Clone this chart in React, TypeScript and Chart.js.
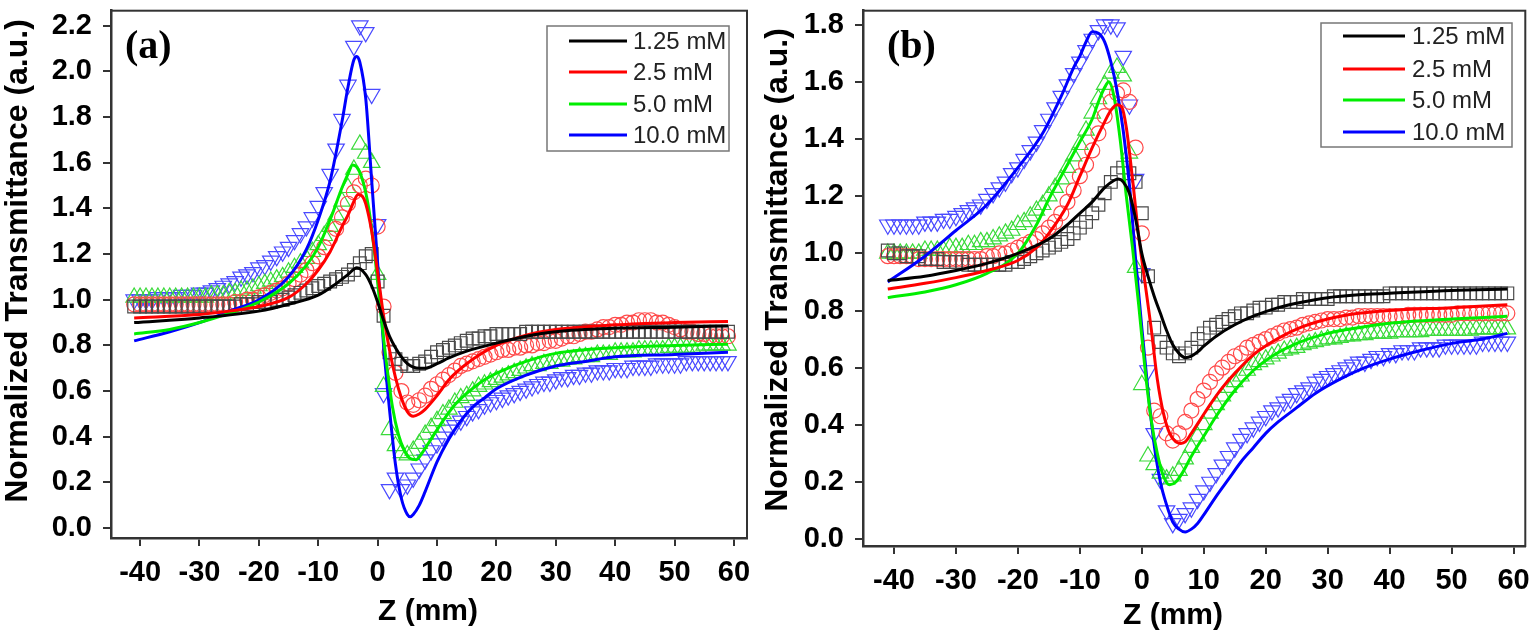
import React, { useEffect, useRef } from 'react';
import { Chart, registerables } from 'chart.js';

Chart.register(...registerables);
Chart.defaults.font.family = '"Liberation Sans", Arial, sans-serif';

// ---------- data ----------
const SERIES_LABELS = ['1.25 mM', '2.5 mM', '5.0 mM', '10.0 mM'];
const LINE_COLORS = ['#000000', '#ff0000', '#00ee00', '#0000ff'];
const MARK_COLORS = ['#4a4a4a', '#ff4a4a', '#3ada3a', '#4a4aff'];

const X_TICKS = [-40, -30, -20, -10, 0, 10, 20, 30, 40, 50, 60];
const Y_TICKS_A = [0.0, 0.2, 0.4, 0.6, 0.8, 1.0, 1.2, 1.4, 1.6, 1.8, 2.0, 2.2];
const Y_TICKS_B = [0.0, 0.2, 0.4, 0.6, 0.8, 1.0, 1.2, 1.4, 1.6, 1.8];

const X_TITLE = 'Z (mm)';
const Y_TITLE = 'Normalized Transmittance (a.u.)';

// sample positions (mm)
const Z_MM = [
  -41, -40, -39, -38, -37, -36, -35, -34, -33, -32,
  -31, -30, -29, -28, -27, -26, -25, -24, -23, -22,
  -21, -20, -19, -18, -17, -16, -15, -14, -13, -12,
  -11, -10, -9, -8, -7, -6, -5, -4, -3, -2,
  -1, 0, 1, 2, 3, 4, 5, 6, 7, 8,
  9, 10, 11, 12, 13, 14, 15, 16, 17, 18,
  19, 20, 21, 22, 23, 24, 25, 26, 27, 28,
  29, 30, 31, 32, 33, 34, 35, 36, 37, 38,
  39, 40, 41, 42, 43, 44, 45, 46, 47, 48,
  49, 50, 51, 52, 53, 54, 55, 56, 57, 58,
  59,
];

// Panel (a) measured points
const A_T125 = [
  0.97, 0.97, 0.97, 0.97, 0.97, 0.97, 0.97, 0.97, 0.97, 0.97,
  0.97, 0.97, 0.97, 0.97, 0.97, 0.97, 0.97, 0.97, 0.98, 0.98,
  0.98, 0.99, 0.99, 0.99, 1.00, 1.00, 1.01, 1.02, 1.03, 1.04,
  1.05, 1.06, 1.07, 1.08, 1.09, 1.10, 1.11, 1.13, 1.16, 1.19,
  1.20, 1.08, 0.93, 0.77, 0.74, 0.72, 0.71, 0.71, 0.72, 0.73,
  0.75, 0.77, 0.78, 0.79, 0.80, 0.81, 0.82, 0.83, 0.83, 0.84,
  0.84, 0.85, 0.85, 0.85, 0.85, 0.85, 0.86, 0.86, 0.86, 0.86,
  0.86, 0.86, 0.86, 0.86, 0.86, 0.86, 0.86, 0.86, 0.86, 0.86,
  0.86, 0.86, 0.86, 0.86, 0.86, 0.86, 0.86, 0.86, 0.86, 0.86,
  0.86, 0.86, 0.86, 0.86, 0.86, 0.86, 0.86, 0.86, 0.86, 0.86,
  0.86,
];
const A_T25 = [
  0.98, 0.98, 0.98, 0.98, 0.98, 0.98, 0.98, 0.98, 0.98, 0.98,
  0.98, 0.98, 0.98, 0.98, 0.98, 0.98, 0.98, 0.99, 0.99, 1.00,
  1.00, 1.01, 1.02, 1.03, 1.04, 1.05, 1.07, 1.09, 1.11, 1.13,
  1.16, 1.19, 1.23, 1.27, 1.31, 1.36, 1.42, 1.47, 1.50, 1.53,
  1.50, 1.32, 0.97, 0.77, 0.68, 0.60, 0.55, 0.54, 0.56, 0.58,
  0.61, 0.63, 0.65, 0.67, 0.69, 0.71, 0.72, 0.73, 0.74, 0.75,
  0.76, 0.77, 0.78, 0.78, 0.79, 0.79, 0.80, 0.80, 0.81, 0.81,
  0.82, 0.82, 0.83, 0.84, 0.84, 0.85, 0.86, 0.86, 0.87, 0.88,
  0.88, 0.89, 0.89, 0.90, 0.90, 0.91, 0.91, 0.91, 0.90, 0.90,
  0.89, 0.88, 0.87, 0.86, 0.86, 0.85, 0.85, 0.84, 0.84, 0.84,
  0.84,
];
const A_T50 = [
  1.01, 1.01, 1.01, 1.01, 1.01, 1.01, 1.01, 1.01, 1.01, 1.01,
  1.01, 1.01, 1.01, 1.02, 1.02, 1.02, 1.03, 1.03, 1.04, 1.04,
  1.05, 1.06, 1.07, 1.08, 1.09, 1.10, 1.12, 1.14, 1.16, 1.18,
  1.21, 1.24, 1.28, 1.32, 1.37, 1.43, 1.49, 1.57, 1.68, 1.64,
  1.60, 1.11, 0.62, 0.43, 0.36, 0.33, 0.32, 0.34, 0.37, 0.41,
  0.44, 0.47, 0.50, 0.52, 0.55, 0.57, 0.58, 0.60, 0.62, 0.63,
  0.64, 0.65, 0.66, 0.67, 0.68, 0.69, 0.70, 0.71, 0.71, 0.72,
  0.72, 0.73, 0.73, 0.74, 0.74, 0.75, 0.75, 0.75, 0.76, 0.76,
  0.76, 0.77, 0.77, 0.77, 0.77, 0.78, 0.78, 0.78, 0.78, 0.78,
  0.79, 0.79, 0.79, 0.79, 0.79, 0.79, 0.80, 0.80, 0.80, 0.80,
  0.80,
];
const A_T100 = [
  1.00, 1.00, 1.00, 1.00, 1.01, 1.01, 1.01, 1.01, 1.02, 1.02,
  1.02, 1.03, 1.03, 1.04, 1.05, 1.06, 1.07, 1.08, 1.10, 1.11,
  1.12, 1.14, 1.15, 1.17, 1.19, 1.21, 1.23, 1.26, 1.29, 1.32,
  1.36, 1.41, 1.47, 1.55, 1.66, 1.79, 1.94, 2.11, 2.20, 2.17,
  1.90, 1.33, 0.59, 0.17, 0.22, 0.17, 0.19, 0.22, 0.26, 0.30,
  0.34, 0.37, 0.40, 0.43, 0.45, 0.47, 0.49, 0.51, 0.52, 0.54,
  0.55, 0.56, 0.57, 0.58, 0.59, 0.60, 0.61, 0.62, 0.63, 0.64,
  0.64, 0.65, 0.66, 0.66, 0.67, 0.67, 0.68, 0.68, 0.69, 0.69,
  0.69, 0.70, 0.70, 0.70, 0.71, 0.71, 0.71, 0.71, 0.72, 0.72,
  0.72, 0.72, 0.72, 0.73, 0.73, 0.73, 0.73, 0.73, 0.73, 0.73,
  0.73,
];

// Panel (b) measured points
const B_T125 = [
  1.01, 1.00, 1.00, 0.99, 0.99, 0.99, 0.98, 0.98, 0.98, 0.97,
  0.97, 0.97, 0.97, 0.96, 0.96, 0.96, 0.96, 0.96, 0.96, 0.96,
  0.97, 0.97, 0.98, 0.99, 1.00, 1.01, 1.02, 1.03, 1.04, 1.05,
  1.07, 1.09, 1.11, 1.14, 1.17, 1.21, 1.25, 1.28, 1.30, 1.28,
  1.25, 1.14, 0.92, 0.74, 0.69, 0.67, 0.65, 0.64, 0.65, 0.67,
  0.70, 0.72, 0.74, 0.75, 0.76, 0.77, 0.78, 0.79, 0.79, 0.80,
  0.81, 0.81, 0.82, 0.82, 0.83, 0.83, 0.83, 0.84, 0.84, 0.84,
  0.84, 0.84, 0.85, 0.85, 0.85, 0.85, 0.85, 0.85, 0.85, 0.85,
  0.85, 0.86, 0.86, 0.86, 0.86, 0.86, 0.86, 0.86, 0.86, 0.86,
  0.86, 0.86, 0.86, 0.86, 0.86, 0.86, 0.86, 0.86, 0.86, 0.86,
  0.86,
];
const B_T25 = [
  0.99, 0.99, 0.99, 0.99, 0.99, 0.98, 0.98, 0.98, 0.98, 0.98,
  0.98, 0.98, 0.98, 0.98, 0.98, 0.98, 0.99, 0.99, 1.00, 1.00,
  1.01, 1.02, 1.03, 1.04, 1.05, 1.07, 1.09, 1.11, 1.14, 1.18,
  1.22, 1.27, 1.31, 1.36, 1.42, 1.48, 1.53, 1.56, 1.57, 1.53,
  1.37, 1.07, 0.67, 0.45, 0.43, 0.37, 0.345, 0.37, 0.41, 0.45,
  0.49, 0.52, 0.55, 0.58, 0.60, 0.62, 0.64, 0.65, 0.67, 0.68,
  0.69, 0.70, 0.71, 0.72, 0.73, 0.735, 0.74, 0.75, 0.755, 0.76,
  0.765, 0.77, 0.77, 0.77, 0.775, 0.775, 0.78, 0.78, 0.78, 0.78,
  0.78, 0.78, 0.78, 0.78, 0.785, 0.785, 0.785, 0.785, 0.785, 0.785,
  0.785, 0.785, 0.79, 0.79, 0.79, 0.79, 0.79, 0.79, 0.79, 0.79,
  0.79,
];
const B_T50 = [
  1.00, 1.00, 1.00, 1.00, 1.00, 1.00, 1.01, 1.01, 1.01, 1.01,
  1.02, 1.02, 1.02, 1.03, 1.03, 1.04, 1.04, 1.05, 1.06, 1.07,
  1.08, 1.10, 1.11, 1.13, 1.15, 1.17, 1.20, 1.23, 1.26, 1.30,
  1.34, 1.38, 1.43, 1.49, 1.54, 1.59, 1.63, 1.65, 1.62, 1.35,
  0.95, 0.54, 0.29, 0.26, 0.23, 0.21, 0.22, 0.24, 0.28, 0.32,
  0.36, 0.40, 0.44, 0.47, 0.50, 0.53, 0.55, 0.57, 0.59, 0.61,
  0.62, 0.63, 0.64, 0.65, 0.66, 0.665, 0.67, 0.68, 0.685, 0.69,
  0.695, 0.70, 0.70, 0.705, 0.71, 0.71, 0.715, 0.715, 0.72, 0.72,
  0.72, 0.72, 0.725, 0.725, 0.725, 0.725, 0.725, 0.73, 0.73, 0.73,
  0.73, 0.73, 0.73, 0.73, 0.73, 0.735, 0.735, 0.735, 0.735, 0.735,
  0.735,
];
const B_T100 = [
  1.10, 1.10, 1.10, 1.10, 1.10, 1.10, 1.11, 1.11, 1.11, 1.12,
  1.12, 1.13, 1.14, 1.15, 1.16, 1.17, 1.19, 1.21, 1.23, 1.25,
  1.28, 1.30, 1.33, 1.36, 1.39, 1.43, 1.47, 1.51, 1.55, 1.59,
  1.63, 1.67, 1.71, 1.75, 1.78, 1.80, 1.80, 1.79, 1.69, 1.52,
  1.26, 0.93, 0.59, 0.37, 0.21, 0.10, 0.055, 0.07, 0.09, 0.11,
  0.14, 0.17, 0.20, 0.23, 0.26, 0.29, 0.32, 0.35, 0.37, 0.39,
  0.41, 0.43, 0.45, 0.46, 0.48, 0.49, 0.51, 0.52, 0.53, 0.55,
  0.56, 0.57, 0.58, 0.59, 0.60, 0.61, 0.62, 0.62, 0.63, 0.64,
  0.64, 0.65, 0.65, 0.66, 0.66, 0.66, 0.67, 0.67, 0.67, 0.67,
  0.68, 0.68, 0.68, 0.68, 0.68, 0.68, 0.69, 0.69, 0.69, 0.69,
  0.69,
];

// Fitted curves [z, T]
const FIT_A_125 = [
  [-41, 0.90], [-30, 0.92], [-20, 0.95], [-15, 0.98], [-10, 1.02], [-7, 1.07], [-5, 1.11],
  [-3.5, 1.14], [-2, 1.11], [-1, 1.06], [0, 0.99], [1, 0.91], [2, 0.84], [3, 0.79], [4, 0.75],
  [5, 0.72], [6, 0.705], [7, 0.70], [8, 0.70], [10, 0.72], [12, 0.745], [15, 0.775], [20, 0.81],
  [25, 0.84], [30, 0.86], [40, 0.875], [50, 0.88], [59, 0.885],
];
const FIT_A_25 = [
  [-41, 0.92], [-30, 0.935], [-25, 0.95], [-20, 0.97], [-15, 1.01], [-12, 1.07], [-10, 1.13],
  [-8, 1.21], [-6, 1.32], [-5, 1.37], [-4, 1.43], [-3.3, 1.46], [-2.5, 1.45], [-2, 1.42],
  [-1, 1.30], [0, 1.12], [1, 0.93], [2, 0.78], [3, 0.66], [4, 0.57], [5, 0.51], [6, 0.49],
  [7, 0.50], [8, 0.52], [10, 0.58], [12, 0.65], [15, 0.72], [20, 0.80], [25, 0.845], [30, 0.87],
  [40, 0.89], [50, 0.90], [59, 0.905],
];
const FIT_A_50 = [
  [-41, 0.85], [-35, 0.87], [-30, 0.90], [-25, 0.94], [-20, 0.99], [-15, 1.07], [-12, 1.15],
  [-10, 1.23], [-8, 1.35], [-6, 1.49], [-5, 1.55], [-4.2, 1.59], [-3.5, 1.58], [-2.5, 1.52],
  [-1.5, 1.40], [-0.5, 1.20], [0.5, 0.95], [1.5, 0.72], [2.5, 0.53], [3.5, 0.41], [4.5, 0.34],
  [5.5, 0.305], [6.5, 0.30], [7.5, 0.33], [9, 0.39], [11, 0.47], [13, 0.54], [15, 0.59],
  [18, 0.65], [21, 0.69], [25, 0.73], [30, 0.765], [40, 0.79], [50, 0.80], [59, 0.805],
];
const FIT_A_100 = [
  [-41, 0.82], [-35, 0.86], [-30, 0.90], [-25, 0.95], [-20, 1.00], [-15, 1.10], [-12, 1.22],
  [-10, 1.35], [-8, 1.52], [-6, 1.78], [-5, 1.93], [-4, 2.05], [-3.5, 2.065], [-3, 2.04],
  [-2, 1.88], [-1, 1.52], [0, 1.16], [1, 0.80], [2, 0.52], [3, 0.28], [4, 0.13], [5, 0.06],
  [5.5, 0.05], [6, 0.06], [7, 0.10], [8, 0.16], [10, 0.29], [12, 0.39], [14, 0.47], [16, 0.53],
  [18, 0.57], [20, 0.61], [25, 0.67], [30, 0.71], [35, 0.73], [40, 0.75], [50, 0.76], [59, 0.77],
];
const FIT_B_125 = [
  [-41, 0.905], [-35, 0.92], [-30, 0.94], [-25, 0.965], [-20, 1.00], [-15, 1.05], [-12, 1.10],
  [-10, 1.14], [-8, 1.18], [-6, 1.23], [-4.5, 1.255], [-3.8, 1.26], [-3, 1.25], [-2, 1.21],
  [-1, 1.12], [0, 1.00], [1, 0.92], [2, 0.85], [3, 0.79], [4, 0.73], [5, 0.68], [6, 0.65],
  [7, 0.635], [8, 0.64], [9, 0.655], [10, 0.675], [12, 0.71], [15, 0.75], [18, 0.78], [22, 0.81],
  [26, 0.83], [30, 0.845], [35, 0.855], [40, 0.86], [50, 0.87], [59, 0.875],
];
const FIT_B_25 = [
  [-41, 0.875], [-35, 0.895], [-30, 0.915], [-25, 0.94], [-20, 0.975], [-17, 1.02], [-15, 1.07],
  [-12, 1.17], [-10, 1.27], [-8, 1.37], [-6, 1.46], [-5, 1.50], [-4, 1.52], [-3.2, 1.51],
  [-2.5, 1.44], [-1.5, 1.26], [-0.5, 1.06], [0.5, 0.90], [1.5, 0.74], [2.5, 0.56], [3.5, 0.44],
  [4.5, 0.37], [5.5, 0.34], [6.3, 0.335], [7, 0.34], [8, 0.37], [9.5, 0.42], [11, 0.47],
  [13, 0.53], [15, 0.58], [18, 0.645], [21, 0.69], [25, 0.735], [30, 0.77], [35, 0.79],
  [40, 0.80], [50, 0.81], [59, 0.82],
];
const FIT_B_50 = [
  [-41, 0.845], [-35, 0.865], [-30, 0.89], [-25, 0.93], [-20, 1.00], [-17, 1.10], [-15, 1.19],
  [-12, 1.31], [-10, 1.39], [-8, 1.47], [-7, 1.53], [-6, 1.58], [-5.3, 1.60], [-4.5, 1.55],
  [-3.5, 1.40], [-2.5, 1.20], [-1.5, 1.02], [-0.5, 0.82], [0.5, 0.60], [1.5, 0.42], [2.5, 0.30],
  [3.5, 0.22], [4.5, 0.19], [5.5, 0.20], [6.5, 0.23], [8, 0.29], [10, 0.36], [12, 0.43],
  [15, 0.52], [18, 0.59], [21, 0.64], [25, 0.685], [30, 0.72], [35, 0.74], [40, 0.755],
  [50, 0.77], [59, 0.78],
];
const FIT_B_100 = [
  [-41, 0.90], [-35, 0.99], [-30, 1.08], [-25, 1.17], [-20, 1.30], [-16, 1.42], [-13, 1.55],
  [-11, 1.65], [-10, 1.69], [-9, 1.74], [-8, 1.775], [-7, 1.77], [-6, 1.74], [-5, 1.67],
  [-4, 1.57], [-3, 1.43], [-2, 1.24], [-1, 0.98], [0, 0.74], [1, 0.52], [2, 0.33], [3, 0.20],
  [4, 0.12], [5, 0.06], [6, 0.035], [7, 0.025], [8, 0.035], [9, 0.055], [10, 0.085], [12, 0.15],
  [14, 0.21], [16, 0.27], [18, 0.32], [20, 0.37], [22, 0.41], [25, 0.46], [28, 0.51], [32, 0.56],
  [36, 0.60], [40, 0.63], [45, 0.66], [50, 0.685], [55, 0.70], [59, 0.72],
];

// ---------- panel layout ----------
type PanelDef = {
  key: string;
  label: string;
  canvasLeft: number;
  canvasWidth: number;
  yMin: number;
  yMax: number;
  xMin: number;
  xMax: number;
  yTicks: number[];
  points: number[][];
  fits: number[][][];
  yAxisWidth: number;
  xAxisHeight: number;
  padTop: number;
  padRight: number;
  labelPos: [number, number];
  legendBox: [number, number, number, number];
  legendLineX: [number, number];
  legendTextX: number;
  legendRows: number[];
  xTitlePos: [number, number];
  yTitlePos: [number, number];
};

const PANELS: PanelDef[] = [
  {
    key: 'a', label: '(a)', canvasLeft: 0, canvasWidth: 760,
    yMin: -0.043, yMax: 2.265, xMin: -44.9, xMax: 62.2, yTicks: Y_TICKS_A,
    points: [A_T125, A_T25, A_T50, A_T100],
    fits: [FIT_A_125, FIT_A_25, FIT_A_50, FIT_A_100],
    yAxisWidth: 111, xAxisHeight: 99, padTop: 4, padRight: 13,
    labelPos: [125, 58],
    legendBox: [547, 26, 182, 125], legendLineX: [569, 627], legendTextX: 633,
    legendRows: [41, 72, 104, 135],
    xTitlePos: [428, 620], yTitlePos: [27, 261],
  },
  {
    key: 'b', label: '(b)', canvasLeft: 760, canvasWidth: 776,
    yMin: -0.024, yMax: 1.849, xMin: -45.0, xMax: 61.9, yTicks: Y_TICKS_B,
    points: [B_T125, B_T25, B_T50, B_T100],
    fits: [FIT_B_125, FIT_B_25, FIT_B_50, FIT_B_100],
    yAxisWidth: 103, xAxisHeight: 91, padTop: 9, padRight: 8,
    labelPos: [127, 58],
    legendBox: [561, 23, 191, 124], legendLineX: [583, 645], legendTextX: 652,
    legendRows: [36, 69, 100, 132],
    xTitlePos: [413, 624], yTitlePos: [27, 270],
  },
];

const MARKER_STYLES = [
  { pointStyle: 'rect', rotation: 0, radius: 9 },
  { pointStyle: 'circle', rotation: 0, radius: 7.5 },
  { pointStyle: 'triangle', rotation: 0, radius: 9.5 },
  { pointStyle: 'triangle', rotation: 180, radius: 9.5 },
];

function buildConfig(p: PanelDef): any {
  const lineSets = p.fits.map((fit, i) => ({
    label: SERIES_LABELS[i],
    data: fit.map(([x, y]) => ({ x, y })),
    borderColor: LINE_COLORS[i],
    backgroundColor: LINE_COLORS[i],
    borderWidth: 3,
    pointRadius: 0,
    fill: false,
    cubicInterpolationMode: 'monotone',
    order: 0,
  }));
  const markSets = p.points.map((vals, i) => ({
    label: SERIES_LABELS[i] + ' data',
    data: Z_MM.map((z, k) => ({ x: z, y: vals[k] })),
    showLine: false,
    pointStyle: MARKER_STYLES[i].pointStyle,
    pointRotation: MARKER_STYLES[i].rotation,
    pointRadius: MARKER_STYLES[i].radius,
    pointBorderColor: MARK_COLORS[i],
    pointBackgroundColor: 'rgba(0,0,0,0)',
    pointBorderWidth: 1.2,
    borderColor: MARK_COLORS[i],
    order: 1,
  }));

  const decor = {
    id: 'decor_' + p.key,
    afterDraw(chart: any) {
      const { ctx, chartArea: ca } = chart;
      ctx.save();
      // frame
      ctx.strokeStyle = '#333';
      ctx.lineWidth = 2;
      ctx.strokeRect(ca.left, ca.top, ca.right - ca.left, ca.bottom - ca.top);
      // panel label
      ctx.fillStyle = '#000';
      ctx.font = 'bold 40px "Liberation Serif", "Times New Roman", serif';
      ctx.textAlign = 'left';
      ctx.textBaseline = 'alphabetic';
      ctx.fillText(p.label, p.labelPos[0], p.labelPos[1]);
      // legend
      const [bx, by, bw, bh] = p.legendBox;
      ctx.fillStyle = '#fff';
      ctx.fillRect(bx, by, bw, bh);
      ctx.strokeStyle = '#777';
      ctx.lineWidth = 1.5;
      ctx.strokeRect(bx, by, bw, bh);
      ctx.font = '24px "Liberation Sans", Arial, sans-serif';
      ctx.textBaseline = 'middle';
      SERIES_LABELS.forEach((lab, i) => {
        const y = p.legendRows[i];
        ctx.strokeStyle = LINE_COLORS[i];
        ctx.lineWidth = 3;
        ctx.beginPath();
        ctx.moveTo(p.legendLineX[0], y);
        ctx.lineTo(p.legendLineX[1], y);
        ctx.stroke();
        ctx.fillStyle = '#222';
        ctx.fillText(lab, p.legendTextX, y + 1);
      });
      // axis titles
      ctx.fillStyle = '#000';
      ctx.textAlign = 'center';
      ctx.textBaseline = 'alphabetic';
      ctx.font = 'bold 30px "Liberation Sans", Arial, sans-serif';
      ctx.fillText(X_TITLE, p.xTitlePos[0], p.xTitlePos[1]);
      ctx.save();
      ctx.translate(p.yTitlePos[0], p.yTitlePos[1]);
      ctx.rotate(-Math.PI / 2);
      ctx.font = 'bold 32px "Liberation Sans", Arial, sans-serif';
      ctx.fillText(Y_TITLE, 0, 0);
      ctx.restore();
      ctx.restore();
    },
  };

  const tickFont = { size: 29, weight: 'bold' as const };
  const gridOpts = {
    display: true, drawOnChartArea: false, drawTicks: true,
    tickLength: 8, color: '#333', lineWidth: 2,
  };

  return {
    type: 'line',
    data: { datasets: [...lineSets, ...markSets] },
    options: {
      animation: false,
      responsive: false,
      devicePixelRatio: 1,
      parsing: true,
      layout: { padding: { top: p.padTop, right: p.padRight, left: 0, bottom: 0 } },
      plugins: { legend: { display: false }, tooltip: { enabled: false }, title: { display: false } },
      scales: {
        x: {
          type: 'linear',
          min: p.xMin,
          max: p.xMax,
          afterBuildTicks: (s: any) => { s.ticks = X_TICKS.map((v) => ({ value: v })); },
          afterFit: (s: any) => {
            s.height = p.xAxisHeight;
            s.paddingLeft = 0; s.paddingRight = 0; s.paddingTop = 0; s.paddingBottom = 0;
          },
          ticks: {
            font: tickFont, color: '#000', padding: 10, maxRotation: 0, autoSkip: false,
            callback: (v: any) => String(v),
          },
          grid: gridOpts,
          border: { display: true, color: '#333', width: 2.5 },
          title: { display: false },
        },
        y: {
          type: 'linear',
          min: p.yMin,
          max: p.yMax,
          afterBuildTicks: (s: any) => { s.ticks = p.yTicks.map((v) => ({ value: v })); },
          afterFit: (s: any) => {
            s.width = p.yAxisWidth;
            s.paddingLeft = 0; s.paddingRight = 0; s.paddingTop = 0; s.paddingBottom = 0;
          },
          ticks: {
            font: tickFont, color: '#000', padding: 11, autoSkip: false,
            callback: (v: any) => Number(v).toFixed(1),
          },
          grid: gridOpts,
          border: { display: true, color: '#333', width: 2.5 },
          title: { display: false },
        },
      },
    },
    plugins: [decor],
  };
}

function Panel({ def }: { def: PanelDef }) {
  const ref = useRef<HTMLCanvasElement | null>(null);
  useEffect(() => {
    if (!ref.current) return;
    const chart = new Chart(ref.current, buildConfig(def));
    return () => chart.destroy();
  }, [def]);
  return (
    <canvas
      ref={ref}
      width={def.canvasWidth}
      height={637}
      style={{ position: 'absolute', left: def.canvasLeft, top: 0, width: def.canvasWidth, height: 637 }}
    />
  );
}

export default function App() {
  return (
    <div style={{ position: 'fixed', left: 0, top: 0, width: 1536, height: 637, background: '#fff', overflow: 'hidden' }}>
      {PANELS.map((p) => (
        <Panel key={p.key} def={p} />
      ))}
    </div>
  );
}
